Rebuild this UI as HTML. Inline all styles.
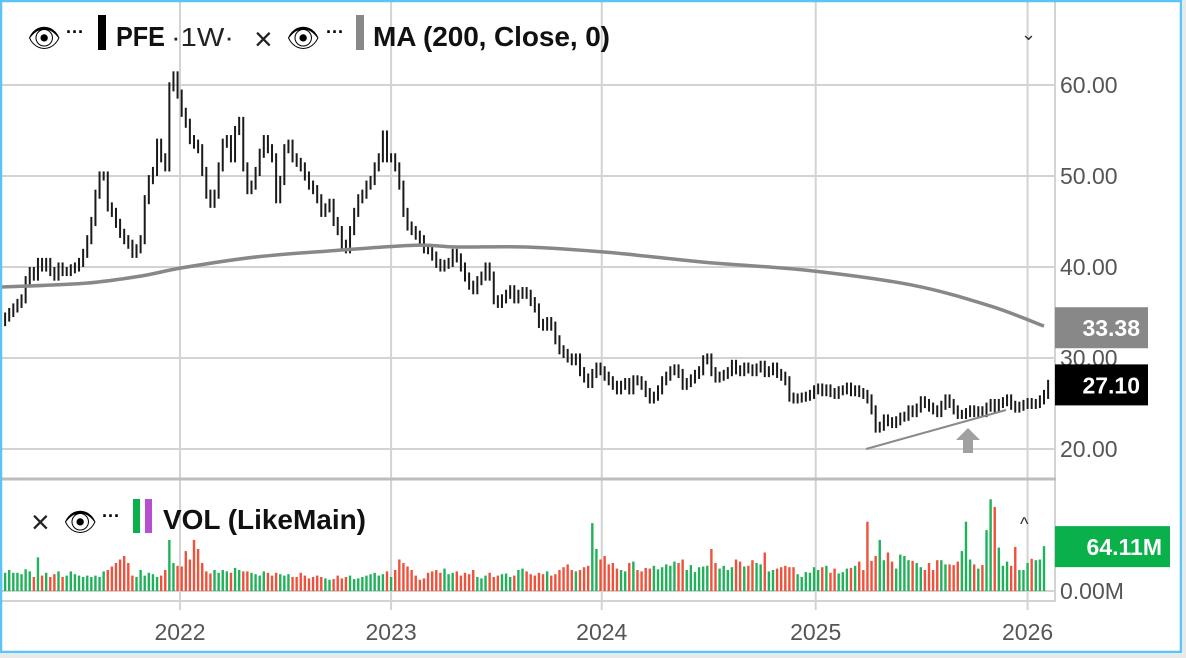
<!DOCTYPE html>
<html><head><meta charset="utf-8"><style>
html,body{margin:0;padding:0;background:#e9e9e9;}
svg{display:block;font-family:"Liberation Sans",sans-serif;}
</style></head><body>
<svg id="chart" width="1186" height="658" viewBox="0 0 1186 658" xmlns="http://www.w3.org/2000/svg">
<rect x="0" y="0" width="1183" height="654" fill="#fff"/>
<g id="grid"></g>
<g id="marks"></g>
<g id="axes"></g>
<g>
  <text x="27" y="47" font-size="27">👁</text>
  <text x="66" y="38" font-size="18" font-weight="bold">···</text>
  <rect x="98" y="15" width="8" height="35" fill="#000"/>
  <text x="116" y="46" font-size="28" font-weight="bold" fill="#111" textLength="49" lengthAdjust="spacingAndGlyphs">PFE</text>
  <text x="171" y="46" font-size="26" fill="#222" textLength="63" lengthAdjust="spacingAndGlyphs">·1W·</text>
  <text x="254" y="50" font-size="32" fill="#222">×</text>
  <text x="286" y="47" font-size="27">👁</text>
  <text x="326" y="38" font-size="18" font-weight="bold">···</text>
  <rect x="356" y="15" width="8" height="35" fill="#888"/>
  <text x="373" y="46" font-size="28" font-weight="bold" fill="#111" textLength="237">MA (200, Close, 0)</text>
  <text x="1021" y="40" font-size="18" fill="#333">⌄</text>
</g>
<g>
  <text x="31" y="533" font-size="32" fill="#222">×</text>
  <text x="63" y="531" font-size="27">👁</text>
  <text x="102" y="522" font-size="18" font-weight="bold">···</text>
  <rect x="133" y="499" width="7" height="34" fill="#0ab04a"/>
  <rect x="145" y="499" width="7" height="34" fill="#b84fd0"/>
  <text x="163" y="529" font-size="28" font-weight="bold" fill="#111" textLength="203">VOL (LikeMain)</text>
  <text x="1020" y="530" font-size="18" fill="#333">^</text>
</g>
<rect x="1" y="1" width="1180" height="651" fill="none" stroke="#5bc3f5" stroke-width="2.5"/>
</svg>
<script>
const closes = [
34.0,34.5,35.0,35.5,36.0,36.5,38.5,39.5,39.0,40.5,40.0,40.5,39.5,39.0,40.0,39.5,39.5,39.8,40.0,40.5,
41.5,43,45,48,50,50,46.6,46,44.8,43.7,43,42.5,41.5,42,43,47.4,49.6,50.5,53.6,52,51,59.8,61,59,57,55.8,54,53.5,53,50.5,48,47,48,51,
53.6,54,52,55,56,51,48.5,49,50.5,52.5,54,53,52,47.5,49.5,53,53.5,52,51.5,51,50,49,48.5,47.5,46,46.5,47,45,44,42.5,42,44,46,47.5,48,49,49.5,51,52,54.5,52,52,51,49,
46,44.5,44,43.5,43,42,
41.9,41.2,40.4,40,40.3,40.5,41.5,41,40,38.9,38,37.5,38.5,39,40,39,36.4,36,36.5,37,
37.5,36.5,37,37.3,37,36.2,35.5,33.8,33.5,34,33.5,32,30.9,30.5,30,29.7,30,28.5,27.8,27.2,
28.3,29,28.6,28,27.5,27,26.5,27,27.3,26.5,27.6,27.5,27,26.2,25.5,25.8,26.5,27.5,28,28.6,
28.8,28.3,27,27.3,27.7,28.2,28.6,29.8,30,28.5,27.8,28,28.2,28.5,29.3,28.7,28.5,29,28.8,28.5,
28.9,29.2,28.4,28.6,29,28.3,28,27.5,
25.7,25.5,25.6,25.7,25.8,26,26.5,26.7,26.3,26.6,26.2,26,26.4,26.5,26.8,26.3,26.5,26.2,26,25.5,
24.3,22.3,22.5,23.3,23,22.8,23.1,23.5,23.6,24.3,24,24.5,25.3,25,24.6,24.3,24,24.8,25.5,25,
24.3,23.8,23.8,24,24.3,24,24.2,24,24.6,25,24.5,25,25.2,25.5,24.8,24.5,24.7,24.9,25.1,24.9,
25,25.4,26,27.1];
const volumes = [
33,26,30,26,26,24,31,28,20,48,22,26,20,24,28,20,22,28,24,22,
20,22,20,22,20,28,30,35,40,45,50,40,22,20,30,22,26,24,20,22,30,73,40,36,35,57,45,73,60,40,28,25,30,26,
30,28,26,33,30,28,28,26,24,22,28,26,22,26,24,22,24,20,20,26,22,18,20,22,20,18,16,17,22,18,20,22,17,18,20,22,24,26,22,24,28,20,30,
45,40,35,30,22,16,
18,26,28,30,26,32,24,26,28,22,26,24,30,20,18,22,26,20,22,24,
25,20,22,30,32,28,24,22,26,24,28,22,24,30,34,38,30,28,30,34,
36,97,60,45,50,38,40,32,30,28,40,42,30,28,33,32,36,31,34,38,
36,42,40,45,30,37,27,34,35,36,60,40,32,36,30,34,45,42,35,36,
44,40,38,55,28,30,32,34,
36,34,34,24,20,27,26,34,30,34,36,26,32,25,27,32,33,36,42,30,
99,43,50,73,44,55,42,32,52,50,44,43,40,34,30,40,30,44,44,38,
38,37,42,57,99,45,38,32,37,87,131,120,62,36,42,36,63,30,30,40,
46,44,45,64];
const maIndex = [0,20,34,44,62,81,101,111,128,148,172,197,222,241,254];
const maValues = [37.8,38.2,39.0,39.9,41.1,41.8,42.4,42.2,42.2,41.6,40.5,39.6,38.0,35.7,33.5];
const priceTicks = [20,30,40,50,60];
const priceTickLabels = ["20.00","30.00","40.00","50.00","60.00"];
const yearLabels = ["2022","2023","2024","2025","2026"];
const yearPos = [43.6,95.0,146.3,198.4,250.0];
const lastMA = 33.38, lastClose = 27.10, lastVol = 64.11;

const NS = "http://www.w3.org/2000/svg";
const N = closes.length;
const xOf = i => 1 + i * (1043 / 254);
const yP = p => 449 - (p - 20) * 9.1;
const yV = v => 591 - v * 0.7;
function mk(tag, attrs, parent){const e=document.createElementNS(NS,tag);for(const k in attrs)e.setAttribute(k,attrs[k]);parent.appendChild(e);return e;}
const grid=document.getElementById('grid'), marks=document.getElementById('marks'), axes=document.getElementById('axes');

priceTicks.forEach((p,k)=>{
  const l=mk('line',{x1:0,x2:1055,y1:yP(p),y2:yP(p),stroke:'#d3d3d3','stroke-width':2},grid);
  
  
  const t=mk('text',{x:1060,y:yP(p)+8,'font-size':23,fill:'#555'},axes);
  t.textContent=priceTickLabels[k];
  
  
});
yearPos.forEach((w,k)=>{
  const x=xOf(w);
  const l=mk('line',{x1:x,x2:x,y1:0,y2:610,stroke:'#d3d3d3','stroke-width':2},grid);
  
  
  const t=mk('text',{x:x,y:640,'font-size':23,fill:'#555','text-anchor':'middle'},axes);
  t.textContent=yearLabels[k];
  
  
});
let e;
e=mk('line',{x1:1055,x2:1055,y1:0,y2:602,stroke:'#d3d3d3','stroke-width':2},grid);


e=mk('line',{x1:0,x2:1056,y1:479,y2:479,stroke:'#bdbdbd','stroke-width':3},grid);


e=mk('line',{x1:0,x2:1056,y1:601,y2:601,stroke:'#d3d3d3','stroke-width':2},grid);


e=mk('line',{x1:0,x2:1055,y1:591,y2:591,stroke:'#d3d3d3','stroke-width':2},grid);



for(let i=0;i<N;i++){
  const up = i===0 || closes[i]>=closes[i-1];
  const r=mk('rect',{x:xOf(i)-1.2,y:yV(volumes[i]),width:2.4,height:591-yV(volumes[i]),fill:up?'#1fb25a':'#f0513a'},marks);
  
  
}
for(let i=0;i<N;i++){
  const o = i===0 ? closes[0]-0.4 : closes[i-1];
  const c = closes[i];
  const hi=Math.max(o,c)+0.5, lo=Math.min(o,c)-0.5;
  const x=xOf(i);
  const b=mk('line',{x1:x,x2:x,y1:yP(hi),y2:yP(lo),stroke:'#1a1a1a','stroke-width':2},marks);
  
  
}
const pts=maIndex.map((w,k)=>[xOf(w),yP(maValues[k])]);
let d='M'+pts[0][0].toFixed(1)+','+pts[0][1].toFixed(1);
for(let k=0;k<pts.length-1;k++){
  const p0=pts[Math.max(0,k-1)],p1=pts[k],p2=pts[k+1],p3=pts[Math.min(pts.length-1,k+2)];
  const c1=[p1[0]+(p2[0]-p0[0])/6,p1[1]+(p2[1]-p0[1])/6];
  const c2=[p2[0]-(p3[0]-p1[0])/6,p2[1]-(p3[1]-p1[1])/6];
  d+=' C'+c1.map(v=>v.toFixed(1)).join(',')+' '+c2.map(v=>v.toFixed(1)).join(',')+' '+p2.map(v=>v.toFixed(1)).join(',');
}
e=mk('path',{d:d,fill:'none',stroke:'#888','stroke-width':3.5,'stroke-linejoin':'round'},marks);


e=mk('line',{x1:866,y1:449,x2:1006,y2:410,stroke:'#8a8a8a','stroke-width':2},marks);


e=mk('path',{d:'M968,428 L980,440 L973,440 L973,453 L963,453 L963,440 L956,440 Z',fill:'#a0a0a0'},marks);



function badge(y,txt,bg,w,name){
  const r=mk('rect',{x:1055,y:y-20,width:w,height:41,fill:bg},axes);
  
  
  const t=mk('text',{x:1055+w-8,y:y+9,'font-size':23,'font-weight':'bold',fill:'#fff','text-anchor':'end'},axes);
  t.textContent=txt;
  
  
}
badge(yP(lastMA),lastMA.toFixed(2),'#888',93,'ma-value-badge');
badge(yP(lastClose),lastClose.toFixed(2),'#000',93,'last-price-badge');
badge(yV(lastVol),lastVol.toFixed(2)+'M','#0ab04a',115,'volume-value-badge');
e=mk('text',{x:1060,y:599,'font-size':23,fill:'#555'},axes);
e.textContent='0.00M';


</script>
</body></html>
